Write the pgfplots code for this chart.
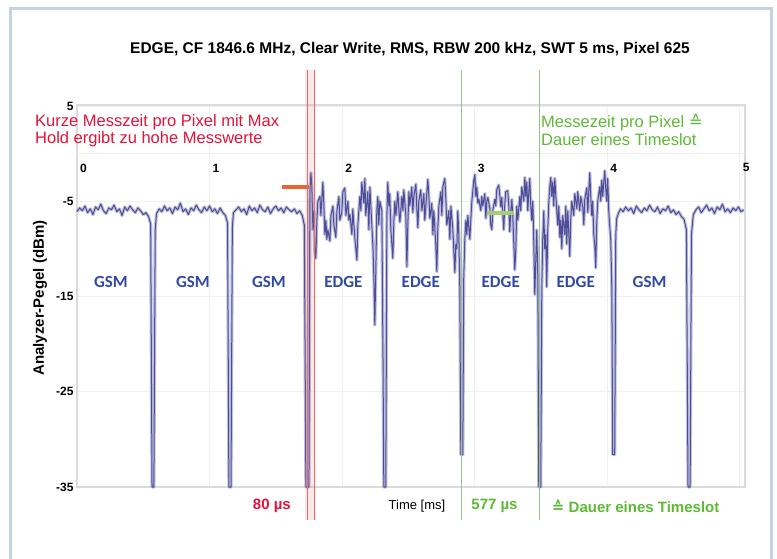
\documentclass[border=0pt]{standalone}
\usepackage{fontspec}
\setmainfont{Liberation Sans}
\newfontfamily\carlito{Carlito}
\newfontfamily\dejavu{DejaVu Sans}
\usepackage{pgfplots}
\usepackage{pgfplotstable}
\pgfplotsset{compat=1.18}

\definecolor{tracec}{RGB}{78,78,150}
\definecolor{tracelight}{RGB}{140,140,200}
\definecolor{redtxt}{RGB}{226,20,60}
\definecolor{greentxt}{RGB}{95,185,55}
\definecolor{bluetxt}{RGB}{50,75,160}
\definecolor{frameblue}{RGB}{196,210,228}
\definecolor{redline}{RGB}{225,110,110}
\definecolor{greenline}{RGB}{150,195,135}
\definecolor{orangemark}{RGB}{232,100,50}
\definecolor{greenmark}{RGB}{165,205,115}

\pgfplotstableread{
t v
0.00 -6.1
0.02 -5.7
0.04 -6.0
0.06 -5.5
0.08 -6.2
0.10 -5.8
0.12 -6.4
0.14 -5.6
0.16 -5.9
0.18 -5.3
0.20 -6.0
0.22 -6.3
0.24 -5.7
0.26 -5.9
0.28 -5.4
0.30 -6.1
0.32 -5.8
0.34 -6.5
0.36 -5.6
0.38 -6.0
0.40 -5.5
0.42 -5.9
0.44 -6.2
0.46 -5.7
0.48 -6.0
0.50 -6.4
0.52 -6.2
0.54 -6.6
0.556 -7.4
0.566 -35
0.580 -35
0.590 -8.0
0.60 -6.3
0.62 -5.8
0.64 -6.1
0.66 -5.5
0.68 -6.0
0.70 -5.7
0.72 -6.3
0.74 -5.6
0.76 -5.9
0.78 -5.2
0.80 -6.1
0.82 -5.8
0.84 -6.4
0.86 -5.7
0.88 -6.0
0.90 -5.4
0.92 -5.9
0.94 -6.2
0.96 -5.6
0.98 -6.0
1.00 -5.5
1.02 -6.1
1.04 -5.8
1.06 -6.3
1.08 -5.7
1.10 -6.2
1.12 -6.5
1.136 -7.3
1.146 -35
1.162 -35
1.172 -7.8
1.18 -6.2
1.20 -5.9
1.22 -5.6
1.24 -6.1
1.26 -5.8
1.28 -6.4
1.30 -5.5
1.32 -6.0
1.34 -5.7
1.36 -6.2
1.38 -5.4
1.40 -5.9
1.42 -6.1
1.44 -5.6
1.46 -6.3
1.48 -5.8
1.50 -5.5
1.52 -6.0
1.54 -5.7
1.56 -6.2
1.58 -5.6
1.60 -5.9
1.62 -6.1
1.64 -5.8
1.66 -6.3
1.68 -6.0
1.70 -6.5
1.715 -7.5
1.727 -35
1.742 -35
1.750 -35
1.757 -4.0
1.765 -2.0
1.772 -3.5
1.780 -8.0
1.787 -6.0
1.795 -10.5
1.802 -11.0
1.810 -7.0
1.817 -5.0
1.833 -4.5
1.840 -6.5
1.855 -3.0
1.863 -5.5
1.870 -8.5
1.878 -7.0
1.885 -9.0
1.893 -8.0
1.908 -9.2
1.916 -6.5
1.931 -5.5
1.938 -7.5
1.953 -8.8
1.961 -6.0
1.976 -4.5
1.983 -7.0
1.998 -6.2
2.006 -4.0
2.021 -3.6
2.029 -6.5
2.044 -5.0
2.051 -7.0
2.059 -6.4
2.074 -8.5
2.081 -5.8
2.097 -9.0
2.112 -11.2
2.119 -7.5
2.134 -4.5
2.142 -6.0
2.149 -3.0
2.164 -5.2
2.172 -2.6
2.179 -6.5
2.194 -4.0
2.202 -8.0
2.210 -3.5
2.217 -5.5
2.232 -9.5
2.240 -13.0
2.247 -18.0
2.255 -12.0
2.262 -6.0
2.270 -4.5
2.277 -7.5
2.285 -5.0
2.300 -6.0
2.308 -20.0
2.315 -35
2.330 -35
2.338 -6.5
2.345 -3.0
2.353 -5.5
2.360 -4.2
2.368 -8.0
2.383 -11.0
2.391 -7.0
2.398 -5.0
2.406 -6.5
2.421 -4.0
2.428 -5.8
2.436 -7.2
2.451 -4.5
2.459 -6.0
2.466 -3.8
2.481 -6.5
2.489 -11.9
2.496 -7.5
2.504 -4.0
2.511 -5.5
2.526 -3.5
2.534 -6.2
2.541 -4.5
2.557 -3.2
2.564 -5.8
2.572 -7.8
2.579 -5.0
2.594 -3.8
2.602 -6.0
2.617 -4.2
2.624 -7.0
2.632 -5.5
2.647 -2.7
2.655 -4.5
2.662 -6.8
2.677 -5.2
2.685 -8.5
2.692 -6.0
2.707 -9.5
2.715 -12.4
2.722 -8.0
2.730 -5.5
2.745 -4.0
2.753 -6.5
2.760 -3.5
2.775 -2.6
2.783 -4.8
2.790 -7.5
2.805 -6.0
2.813 -9.0
2.821 -5.5
2.836 -8.0
2.851 -12.5
2.858 -9.5
2.866 -10.0
2.873 -6.0
2.881 -8.5
2.888 -14.0
2.896 -31.6
2.911 -31.6
2.918 -13.0
2.926 -9.0
2.934 -7.0
2.941 -8.5
2.949 -6.5
2.964 -9.0
2.971 -7.0
2.979 -5.0
2.986 -4.0
2.994 -2.8
3.002 -2.2
3.009 -4.5
3.017 -3.5
3.024 -5.2
3.032 -4.8
3.047 -6.0
3.054 -4.5
3.062 -5.5
3.077 -4.2
3.085 -6.8
3.092 -5.0
3.100 -4.6
3.115 -5.8
3.122 -7.5
3.130 -8.0
3.137 -6.0
3.152 -4.8
3.160 -5.5
3.167 -3.8
3.182 -3.3
3.190 -4.4
3.198 -5.6
3.205 -4.6
3.220 -8.0
3.228 -5.2
3.235 -4.0
3.250 -3.9
3.258 -5.5
3.265 -8.2
3.273 -6.0
3.281 -4.8
3.288 -6.6
3.296 -9.5
3.303 -12.2
3.311 -10.0
3.318 -5.5
3.326 -7.0
3.341 -4.5
3.348 -6.0
3.356 -3.5
3.371 -5.0
3.379 -2.5
3.386 -4.5
3.394 -3.0
3.401 -6.0
3.409 -4.0
3.416 -2.6
3.424 -5.5
3.431 -7.0
3.439 -5.0
3.446 -9.0
3.454 -14.8
3.462 -11.0
3.469 -8.0
3.477 -13.0
3.484 -35
3.499 -35
3.507 -14.0
3.514 -9.0
3.522 -6.0
3.529 -10.0
3.537 -8.5
3.544 -14.0
3.552 -8.0
3.560 -5.0
3.567 -3.5
3.575 -2.5
3.582 -4.5
3.590 -3.0
3.597 -5.5
3.605 -2.6
3.612 -4.2
3.620 -6.0
3.627 -7.5
3.635 -5.5
3.643 -8.8
3.650 -7.0
3.658 -10.0
3.665 -6.5
3.680 -8.5
3.688 -5.5
3.695 -9.5
3.703 -6.0
3.718 -10.8
3.725 -7.0
3.733 -5.0
3.748 -6.5
3.756 -4.2
3.771 -5.8
3.778 -4.0
3.793 -6.0
3.801 -4.5
3.816 -5.6
3.824 -7.5
3.831 -4.8
3.846 -3.6
3.854 -6.2
3.861 -4.0
3.869 -2.0
3.876 -4.5
3.884 -6.5
3.891 -5.0
3.899 -8.5
3.906 -9.5
3.914 -12.0
3.922 -7.0
3.929 -5.0
3.944 -3.5
3.952 -5.0
3.959 -2.8
3.967 -4.5
3.974 -3.0
3.982 -1.8
3.989 -3.6
3.997 -5.0
4.004 -2.6
4.012 -6.0
4.019 -7.5
4.027 -9.0
4.035 -14.0
4.042 -31.6
4.057 -31.6
4.065 -8.5
4.072 -6.8
4.087 -6.2
4.10 -5.8
4.12 -6.1
4.14 -5.6
4.16 -6.0
4.18 -5.7
4.20 -6.3
4.22 -5.5
4.24 -5.9
4.26 -6.2
4.28 -5.7
4.30 -6.0
4.32 -5.4
4.34 -5.9
4.36 -6.1
4.38 -5.6
4.40 -6.3
4.42 -5.8
4.44 -6.0
4.46 -5.5
4.48 -6.2
4.50 -5.9
4.52 -6.4
4.54 -6.1
4.56 -6.6
4.58 -6.9
4.598 -8.0
4.610 -35
4.626 -35
4.636 -8.5
4.65 -6.4
4.67 -5.9
4.69 -5.6
4.71 -6.2
4.73 -5.8
4.75 -5.4
4.77 -6.0
4.79 -5.7
4.81 -6.3
4.83 -5.6
4.85 -5.9
4.87 -5.3
4.89 -6.1
4.91 -5.8
4.93 -6.2
4.95 -5.7
4.97 -6.0
4.99 -5.6
5.01 -6.1
5.03 -5.9
}\trace

\begin{document}
\begin{tikzpicture}
\useasboundingbox (0pt,0pt) rectangle (777pt,-558pt);
\fill[white] (0pt,0pt) rectangle (777pt,-558pt);
\draw[line width=3pt, frameblue] (10pt,-8pt) rectangle (771pt,-580pt);

\node[font=\bfseries\fontsize{15.5}{15.5}\selectfont] at (410pt,-49pt)
  {EDGE, CF 1846.6 MHz, Clear Write, RMS, RBW 200 kHz, SWT 5 ms, Pixel 625};

\begin{axis}[
  at={(77pt,-487pt)}, anchor=south west,
  width=668pt, height=382pt, scale only axis,
  xmin=0, xmax=5.04, ymin=-35, ymax=5.1,
  xtick={0,1,2,3,4,5}, xticklabels={},
  ytick={-35,-25,-15,-5,5},
  extra y ticks={0}, extra y tick labels={},
  extra y tick style={grid style={draw=gray!22, line width=1pt}},
  major tick length=0pt,
  grid=major,
  major grid style={draw=gray!12, line width=0.8pt},
  axis line style={draw=gray!28, line width=1.4pt},
  tick label style={font=\bfseries\fontsize{12}{12}\selectfont},
  /pgf/number format/assume math mode=true,
  clip=false,
]
% trace: halo and core
\addplot[tracelight, line width=3.2pt, opacity=0.55, line join=round] table[x=t, y=v] {\trace};
\addplot[tracec, line width=1pt, line join=round] table[x=t, y=v] {\trace};

% measurement markers
\addplot[orangemark, line width=3.5pt] coordinates {(1.546,-3.5) (1.750,-3.5)};
\addplot[greenmark, line width=4pt] coordinates {(3.092,-6.24) (3.296,-6.24)};

% red pair of lines (80 us)
\addplot[draw=none, fill=redline, fill opacity=0.15] coordinates {(1.722,8.77) (1.806,8.77) (1.806,-38.46) (1.722,-38.46)};
\addplot[redline, line width=1.1pt] coordinates {(1.738,8.77) (1.738,-38.46)};
\addplot[redline, line width=1.1pt] coordinates {(1.790,8.77) (1.790,-38.46)};
% green pair of lines (577 us)
\addplot[greenline, line width=1.2pt] coordinates {(2.903,8.77) (2.903,-38.46)};
\addplot[greenline, line width=1.2pt] coordinates {(3.492,8.77) (3.492,-38.46)};

% x tick labels inside the plot
\pgfplotsinvokeforeach{0,1,2,3,4,5}{
  \node[anchor=west, inner sep=0pt, font=\bfseries\fontsize{12}{12}\selectfont] at (axis cs:#1,-1.5) {\hspace{3pt}#1};
}

% slot labels
\node[font=\carlito\bfseries\fontsize{17}{17}\selectfont, text=bluetxt] at (axis cs:0.256,-13.5) {GSM};
\node[font=\carlito\bfseries\fontsize{17}{17}\selectfont, text=bluetxt] at (axis cs:0.875,-13.5) {GSM};
\node[font=\carlito\bfseries\fontsize{17}{17}\selectfont, text=bluetxt] at (axis cs:1.448,-13.5) {GSM};
\node[font=\carlito\bfseries\fontsize{17}{17}\selectfont, text=bluetxt] at (axis cs:2.010,-13.5) {EDGE};
\node[font=\carlito\bfseries\fontsize{17}{17}\selectfont, text=bluetxt] at (axis cs:2.594,-13.5) {EDGE};
\node[font=\carlito\bfseries\fontsize{17}{17}\selectfont, text=bluetxt] at (axis cs:3.197,-13.5) {EDGE};
\node[font=\carlito\bfseries\fontsize{17}{17}\selectfont, text=bluetxt] at (axis cs:3.763,-13.5) {EDGE};
\node[font=\carlito\bfseries\fontsize{17}{17}\selectfont, text=bluetxt] at (axis cs:4.320,-13.5) {GSM};

% bottom labels
\node[font=\bfseries\fontsize{15}{15}\selectfont, text=redtxt] at (axis cs:1.47,-37.0) {80 µs};
\node[font=\fontsize{13}{13}\selectfont] at (axis cs:2.565,-37.0) {Time [ms]};
\node[font=\bfseries\fontsize{15}{15}\selectfont, text=greentxt] at (axis cs:3.15,-37.0) {577 µs};
\node[font=\bfseries\fontsize{15}{15}\selectfont, text=greentxt] at (axis cs:4.215,-37.0) {{\dejavu ≙} Dauer eines Timeslot};
\end{axis}

\node[rotate=90, font=\bfseries\fontsize{15}{15}\selectfont] at (40pt,-298pt) {Analyzer-Pegel (dBm)};

\node[anchor=north west, align=left, inner sep=0pt, text=redtxt,
  font=\fontsize{16.5}{17.5}\selectfont] at (35pt,-114pt)
  {Kurze Messzeit pro Pixel mit Max\\Hold ergibt zu hohe Messwerte};
\node[anchor=north west, align=left, inner sep=0pt, text=greentxt,
  font=\fontsize{16.5}{17.5}\selectfont] at (541pt,-114pt)
  {Messezeit pro Pixel {\dejavu ≙}\\Dauer eines Timeslot};
\end{tikzpicture}
\end{document}
